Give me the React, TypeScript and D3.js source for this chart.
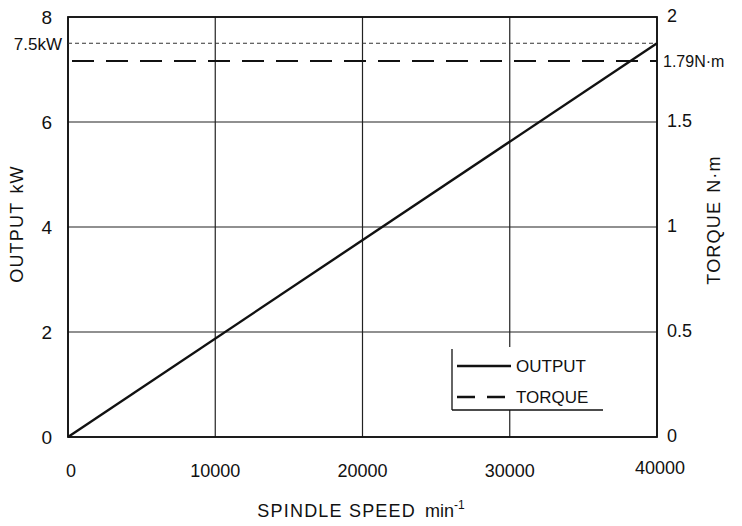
import * as d3 from "d3";

// spindle speed (min^-1) vs output (kW) and torque (N·m)
const speed = [0, 40000];
const output = [0, 7.5];
const torque = [1.79, 1.79];
const ratedOutput = 7.5;

const speedTicks = [0, 10000, 20000, 30000, 40000];
const outputTicks = [0, 2, 4, 6, 8];
const torqueTicks = ["0", "0.5", "1", "1.5", "2"];

const legendItems = [
  { name: "OUTPUT", dash: "none" },
  { name: "TORQUE", dash: "18 12" },
];

const font = "'Liberation Sans', Arial, sans-serif";

const App = () => {
  const width = 742;
  const height = 526;
  const x = d3.scaleLinear().domain([0, 40000]).range([68, 657]);
  const yL = d3.scaleLinear().domain([0, 8]).range([437, 17]);
  const yR = d3.scaleLinear().domain([0, 2]).range([437, 17]);

  const outLine = d3
    .line<number>()
    .x((_, i) => x(speed[i]))
    .y((d) => yL(d));
  const torqueLine = d3
    .line<number>()
    .x((_, i) => x(speed[i]))
    .y((d) => yR(d));

  return (
    <svg
      width={width}
      height={height}
      style={{ position: "absolute", left: 0, top: 0, background: "#fff" }}
      fontFamily={font}
    >
      {/* grid */}
      {speedTicks.map((t) => (
        <line key={"vx" + t} x1={x(t)} x2={x(t)} y1={yL(0)} y2={yL(8)} stroke="#222" strokeWidth={1.2} />
      ))}
      {outputTicks.map((t) => (
        <line key={"hy" + t} x1={x(0)} x2={x(40000)} y1={yL(t)} y2={yL(t)} stroke="#222" strokeWidth={1.2} />
      ))}
      <rect x={x(0)} y={yL(8)} width={x(40000) - x(0)} height={yL(0) - yL(8)} fill="none" stroke="#111" strokeWidth={1.8} />

      {/* rated output reference */}
      <line x1={x(0)} x2={x(40000)} y1={yL(ratedOutput)} y2={yL(ratedOutput)} stroke="#333" strokeWidth={1} strokeDasharray="4 3" />

      {/* torque */}
      <path d={torqueLine(torque) ?? ""} fill="none" stroke="#111" strokeWidth={2} strokeDasharray="22 12" strokeDashoffset={-4} />
      {/* output */}
      <path d={outLine(output) ?? ""} fill="none" stroke="#111" strokeWidth={2.4} />

      {/* legend */}
      <rect x={447} y={347} width={158} height={63} fill="#fff" />
      <line x1={452} x2={452} y1={349} y2={410} stroke="#111" strokeWidth={1.3} />
      <line x1={452} x2={603} y1={410} y2={410} stroke="#111" strokeWidth={1.3} />
      {legendItems.map((item, i) => (
        <g key={item.name} transform={`translate(457, ${366 + i * 31})`}>
          <line x1={0} x2={54} y1={0} y2={0} stroke="#111" strokeWidth={2.4} strokeDasharray={item.dash} />
          <text x={59} y={6} fontSize={17} fill="#111">
            {item.name}
          </text>
        </g>
      ))}

      {/* left axis labels */}
      {outputTicks.map((t) => (
        <text key={"ly" + t} x={52} y={yL(t) + 7} fontSize={19} textAnchor="end" fill="#111">
          {t}
        </text>
      ))}
      <text x={62} y={yL(ratedOutput) + 7} fontSize={17} textAnchor="end" fill="#111">
        7.5kW
      </text>

      {/* right axis labels */}
      {torqueTicks.map((t, i) => (
        <text key={"ry" + t} x={667} y={yR(i * 0.5) + 5} fontSize={18} fill="#111">
          {t}
        </text>
      ))}
      <text x={663} y={yR(1.79) + 6} fontSize={16} fill="#111">
        1.79N·m
      </text>

      {/* x axis labels */}
      {speedTicks.map((t, i) => (
        <text
          key={"xt" + t}
          x={i === 0 ? x(t) + 3 : i === 4 ? x(t) + 3 : x(t)}
          y={i === 4 ? 474 : 477}
          fontSize={18}
          textAnchor="middle"
          fill="#111"
        >
          {t}
        </text>
      ))}

      {/* axis titles */}
      <text x={361} y={517} fontSize={18} textAnchor="middle" fill="#111" letterSpacing={1.2}>
        SPINDLE SPEED
        <tspan dx={9} letterSpacing={0}>min</tspan>
        <tspan dy={-8} fontSize={12} letterSpacing={0}>
          -1
        </tspan>
      </text>
      <text transform="translate(23, 224) rotate(-90)" fontSize={18} textAnchor="middle" fill="#111" letterSpacing={1.2}>
        OUTPUT
        <tspan dx={8}>kW</tspan>
      </text>
      <text transform="translate(720, 220) rotate(-90)" fontSize={18} textAnchor="middle" fill="#111" letterSpacing={1.2}>
        TORQUE
        <tspan dx={8}>N·m</tspan>
      </text>
    </svg>
  );
};

export default App;
